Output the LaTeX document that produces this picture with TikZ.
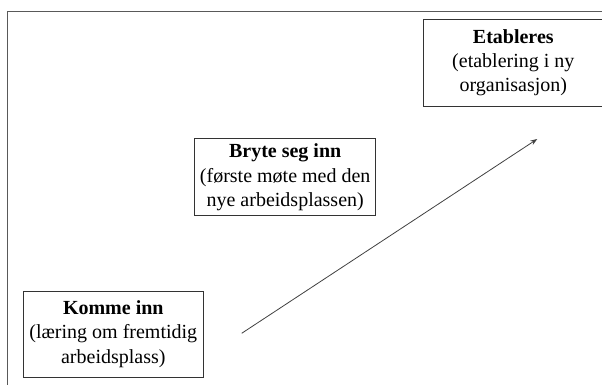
\documentclass[tikz,border=0pt]{standalone}
\usepackage{fontspec}
\setmainfont{Liberation Serif}
\usetikzlibrary{arrows.meta}
\begin{document}
\begin{tikzpicture}[x=1pt,y=-1pt,
  stagebox/.style={draw=black!80, line width=0.9pt, rectangle, align=center, inner sep=0pt,
    font=\fontsize{20}{24.4}\selectfont},
  frame/.style={draw=black!65, line width=1.4pt},
  flow/.style={draw=black!75, line width=0.8pt, -{Stealth[length=7pt,width=5pt]}}]
\useasboundingbox (0,0) rectangle (602,385);
\clip (0,0) rectangle (602,385);
\draw[frame] (7.5,11.5) rectangle (640,420);
\node[stagebox, minimum width=180pt, minimum height=86pt] (komme) at (113.3,334)
  {\textbf{Komme inn}\\(læring om fremtidig\\arbeidsplass)};
\node[stagebox, minimum width=181pt, minimum height=77pt] (bryte) at (285.2,177.4)
  {\textbf{Bryte seg inn}\\(første møte med den\\nye arbeidsplassen)};
\node[stagebox, minimum width=180pt, minimum height=86.7pt] (etabl) at (513.3,62.7)
  {\textbf{Etableres}\\(etablering i ny\\organisasjon)};
\coordinate (pstart) at (241.7,333.3);
\coordinate (pend) at (537.3,139);
\draw[flow] (pstart) -- (pend);
\end{tikzpicture}
\end{document}
